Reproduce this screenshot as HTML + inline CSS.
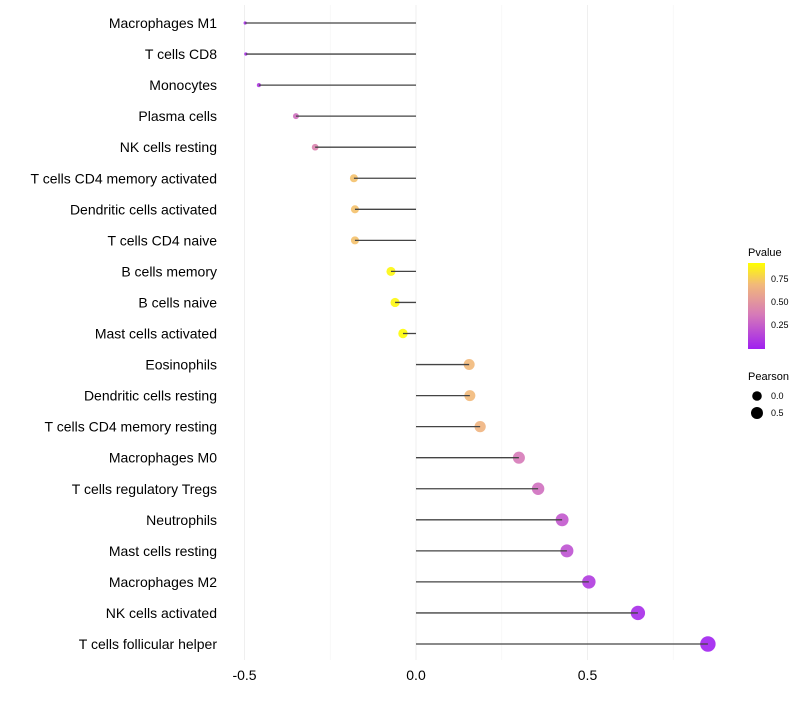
<!DOCTYPE html>
<html><head><meta charset="utf-8"><style>
body{margin:0;background:#fff;font-family:"Liberation Sans",sans-serif}
</style></head><body>
<svg id="c" width="800" height="700" xmlns="http://www.w3.org/2000/svg">
<defs><linearGradient id="pg" x1="0" y1="1" x2="0" y2="0">
<stop offset="0" stop-color="#a020f0"/><stop offset="0.4" stop-color="#d67ab8"/><stop offset="0.75" stop-color="#f2b97a"/><stop offset="1" stop-color="#ffff00"/></linearGradient></defs>
</svg>
<script>
const categories=["Macrophages M1","T cells CD8","Monocytes","Plasma cells","NK cells resting","T cells CD4 memory activated","Dendritic cells activated","T cells CD4 naive","B cells memory","B cells naive","Mast cells activated","Eosinophils","Dendritic cells resting","T cells CD4 memory resting","Macrophages M0","T cells regulatory  Tregs ","Neutrophils","Mast cells resting","Macrophages M2","NK cells activated","T cells follicular helper"];
const pearson=[-0.498,-0.496,-0.458,-0.35,-0.294,-0.181,-0.178,-0.178,-0.073,-0.061,-0.038,0.155,0.157,0.187,0.30,0.356,0.426,0.44,0.504,0.647,0.851];
const pvalue=[0.05,0.05,0.1,0.35,0.45,0.78,0.78,0.78,0.97,0.97,0.99,0.75,0.75,0.72,0.4,0.35,0.25,0.22,0.12,0.05,0.01];
const xTicks=[-0.5,0,0.5];
const xMinor=[-0.25,0.25,0.75];
const NS="http://www.w3.org/2000/svg",svg=document.getElementById('c');
const x=v=>416+v*343;
const y=i=>23+i*31.05;
function mk(t,a,p){const e=document.createElementNS(NS,t);for(const k in a)e.setAttribute(k,a[k]);(p||svg).appendChild(e);return e;}
function lerp(a,b,t){return a.map((v,i)=>Math.round(v+(b[i]-v)*t));}
function col(p){const s=[[0,[160,32,240]],[0.4,[214,122,184]],[0.75,[242,185,122]],[1,[255,255,0]]];
for(let i=1;i<s.length;i++)if(p<=s[i][0]){const t=(p-s[i-1][0])/(s[i][0]-s[i-1][0]);const c=lerp(s[i-1][1],s[i][1],t);return `rgb(${c})`;}return 'rgb(255,255,0)';}
const rad=v=>6.5*Math.sqrt(Math.max(v+0.56,0.02));
xMinor.forEach(v=>{const l=mk('line',{x1:x(v),x2:x(v),y1:5,y2:660,stroke:'#f4f4f4','stroke-width':0.6});
});
xTicks.forEach(v=>{const l=mk('line',{x1:x(v),x2:x(v),y1:5,y2:660,stroke:'#efefef','stroke-width':1});

const t=mk('text',{x:x(v),y:680,'text-anchor':'middle','font-size':14,fill:'#000'});t.textContent=v===0?'0.0':v.toFixed(1);
});
categories.forEach((c,i)=>{
const t=mk('text',{x:217,y:y(i)+5,'text-anchor':'end','font-size':14,fill:'#000'});t.textContent=c;

const d=mk('circle',{cx:x(pearson[i]),cy:y(i),r:rad(pearson[i]),fill:col(pvalue[i]),'fill-opacity':0.9});

const l=mk('line',{x1:x(0),x2:x(pearson[i]),y1:y(i),y2:y(i),stroke:'#444','stroke-width':1.3});

});
</script>
<svg style="position:absolute;left:0;top:0" width="800" height="700">
<text x="748" y="256" font-size="11" fill="#000">Pvalue</text>
<rect x="748" y="263" width="17" height="86" fill="url(#pg)"/>
<g font-size="9" fill="#000"><text x="771" y="282">0.75</text><text x="771" y="305">0.50</text><text x="771" y="328">0.25</text></g>
<text x="748" y="380" font-size="11" fill="#000">Pearson</text>
<circle cx="757" cy="396" r="4.8" fill="#000"/>
<circle cx="757" cy="413" r="6" fill="#000"/>
<g font-size="9" fill="#000"><text x="771" y="399">0.0</text><text x="771" y="416">0.5</text></g>
</svg>
</body></html>
